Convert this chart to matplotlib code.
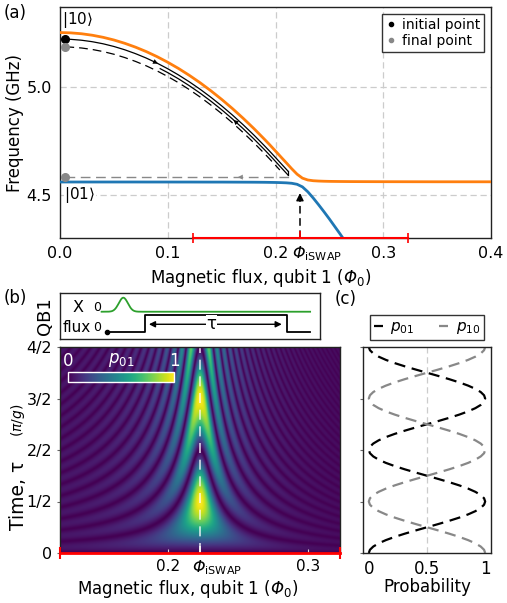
import numpy as np
import matplotlib
matplotlib.use("Agg")
import matplotlib.pyplot as plt
from matplotlib.lines import Line2D
from matplotlib.colors import PowerNorm
import matplotlib.transforms as mtransforms

plt.rcParams['font.family'] = ['DejaVu Sans']
plt.rcParams['mathtext.fontset'] = 'custom'
plt.rcParams['mathtext.rm'] = 'DejaVu Sans'
plt.rcParams['mathtext.it'] = 'DejaVu Sans:italic'
plt.rcParams['mathtext.bf'] = 'DejaVu Sans:bold'
plt.rcParams['mathtext.sf'] = 'DejaVu Sans:italic'

# ---------------- panel (a): dressed qubit frequencies ----------------
flux_a = [0.00, 0.01, 0.02, 0.03, 0.04, 0.05, 0.06, 0.07, 0.08, 0.09,
          0.10, 0.11, 0.12, 0.13, 0.14, 0.15, 0.16, 0.17, 0.18, 0.19,
          0.195, 0.20, 0.205, 0.21, 0.215, 0.22, 0.225, 0.23, 0.235, 0.24,
          0.245, 0.25, 0.26, 0.27, 0.28, 0.30, 0.35, 0.40]
freq_upper = [5.2516, 5.2502, 5.2461, 5.2392, 5.2296, 5.2172, 5.2020, 5.1841, 5.1636, 5.1402,
              5.1140, 5.0852, 5.0535, 5.0192, 4.9820, 4.9422, 4.8997, 4.8544, 4.8066, 4.7560,
              4.7298, 4.7028, 4.6755, 4.6485, 4.6211, 4.5957, 4.5772, 4.5687, 4.5653, 4.5638,
              4.5629, 4.5623, 4.5617, 4.5613, 4.5611, 4.5608, 4.5604, 4.5603]
freq_lower = [4.5594, 4.5594, 4.5594, 4.5594, 4.5594, 4.5594, 4.5594, 4.5594, 4.5593, 4.5593,
              4.5593, 4.5592, 4.5592, 4.5591, 4.5590, 4.5590, 4.5588, 4.5586, 4.5584, 4.5580,
              4.5576, 4.5572, 4.5565, 4.5555, 4.5535, 4.5488, 4.5368, 4.5139, 4.4852, 4.4540,
              4.4216, 4.3881, 4.3183, 4.2459, 4.1704, 4.0110, 3.5640, 3.0480]
phi_iswap = 0.2227
initial_point = (0.005, 5.221)
final_point_hi = (0.005, 5.187)
final_point_lo = (0.005, 4.582)
scan_range = [0.123, 0.323]
a_xticks = [0.0, 0.1, 0.2, 0.3, 0.4]
a_xticklabels = ['0.0', '0.1', '0.2', '0.3', '0.4']
a_yticks = [4.5, 5.0]
a_yticklabels = ['4.5', '5.0']

# ---------------- panel (b): chevron ----------------
b_xticks = [0.2, 0.3]
b_xticklabels = ['0.2', '0.3']
b_yticks = [0, 0.5, 1.0, 1.5, 2.0]
b_yticklabels = ['0', '1/2', '2/2', '3/2', '4/2']
detuning_scale = 260.0     # dimensionless detuning per (Phi0^2)

# ---------------- panel (c): populations at Phi_iSWAP ----------------
tau_c = [k / 32 for k in range(65)]
p01_c = [0.0, 0.0096, 0.0381, 0.0843, 0.1464, 0.2222, 0.3087, 0.4025, 0.5, 0.5975, 0.6913, 0.7778,
         0.8536, 0.9157, 0.9619, 0.9904, 1.0, 0.9904, 0.9619, 0.9157, 0.8536, 0.7778, 0.6913, 0.5975,
         0.5, 0.4025, 0.3087, 0.2222, 0.1464, 0.0843, 0.0381, 0.0096, 0.0,
         0.0096, 0.0381, 0.0843, 0.1464, 0.2222, 0.3087, 0.4025, 0.5, 0.5975, 0.6913, 0.7778,
         0.8536, 0.9157, 0.9619, 0.9904, 1.0, 0.9904, 0.9619, 0.9157, 0.8536, 0.7778, 0.6913, 0.5975,
         0.5, 0.4025, 0.3087, 0.2222, 0.1464, 0.0843, 0.0381, 0.0096, 0.0]
p10_c = [1.0 - v for v in p01_c]
c_xticks = [0, 0.5, 1]
c_xticklabels = ['0', '0.5', '1']

W, H = 507, 603
fig = plt.figure(figsize=(W / 100, H / 100), dpi=100)


def ax_px(l, t, r, b):
    return fig.add_axes([l / W, 1 - b / H, (r - l) / W, (b - t) / H])


ax_a = ax_px(60, 7, 491, 238)
ax_s = ax_px(60, 293, 320, 339)
ax_b = ax_px(60, 347, 340, 553)
ax_c = ax_px(363, 347, 491, 553)

spine_col = '#222222'
for ax in (ax_a, ax_s, ax_b, ax_c):
    for s in ax.spines.values():
        s.set_color(spine_col)
        s.set_linewidth(1.0)

PHI_IT = r'$\mathsf{Φ}_{\mathrm{iSWAP}}$'
XLABEL = r'Magnetic flux, qubit 1 ($\mathsf{Φ}_{\mathrm{0}}$)'


def phi_label(ax, dy_px):
    off = mtransforms.ScaledTranslation(-8 / 100, -dy_px / 100, fig.dpi_scale_trans)
    ax.text(phi_iswap, 0, PHI_IT, transform=ax.get_xaxis_transform() + off,
            ha='left', va='top', fontsize=11.5)


# ======================= panel (a) =======================
ax = ax_a
ax.set_xlim(0, 0.4)
ax.set_ylim(4.3, 5.37)
grid_kw = dict(color='#cccccc', lw=0.9, dashes=(5, 3), zorder=0)
for x in [0.1, 0.2, 0.3]:
    ax.axvline(x, **grid_kw)
for y in a_yticks:
    ax.axhline(y, **grid_kw)

ax.plot(flux_a, freq_upper, color='#ff7f0e', lw=2, zorder=3)
ax.plot(flux_a, freq_lower, color='#1f77b4', lw=2, zorder=3)

xu = np.array(flux_a)
yu = np.array(freq_upper)


def up(x):
    return np.interp(x, xu, yu)


x_turn = 0.2117
x_out = np.linspace(initial_point[0], x_turn, 120)
ax.plot(x_out, up(x_out) - 0.03, color='k', lw=0.9, zorder=4)
x_in = np.linspace(0.093, x_turn, 100)
ax.plot(x_in, up(x_in) - 0.048, color='k', lw=0.9, zorder=4)
ax.plot([x_turn, x_turn], [up(x_turn) - 0.03, up(x_turn) - 0.048], color='k', lw=0.9, zorder=4)
x_d = np.linspace(final_point_hi[0], 0.204, 120)
ax.plot(x_d, up(x_d) - 0.066, color='k', lw=0.9, dashes=(7, 4), zorder=4)
ax.plot([final_point_lo[0], 0.2135], [final_point_lo[1]] * 2, color='#888888', lw=1.0,
        dashes=(7, 4), zorder=4)

arr = dict(arrowstyle='-|>', lw=0.01, mutation_scale=9, shrinkA=0, shrinkB=0)
ax.annotate('', xy=(0.091, up(0.091) - 0.03), xytext=(0.085, up(0.085) - 0.03),
            arrowprops=dict(color='k', **arr), zorder=5)
ax.annotate('', xy=(0.161, up(0.161) - 0.048), xytext=(0.168, up(0.168) - 0.048),
            arrowprops=dict(color='k', **arr), zorder=5)
ax.annotate('', xy=(0.165, final_point_lo[1]), xytext=(0.173, final_point_lo[1]),
            arrowprops=dict(color='#888888', **arr), zorder=5)

ax.plot(*initial_point, 'o', color='k', ms=5.5, zorder=6, clip_on=False)
ax.plot(*final_point_hi, 'o', color='#888888', ms=5.5, zorder=6, clip_on=False)
ax.plot(*final_point_lo, 'o', color='#888888', ms=5.5, zorder=6, clip_on=False)

# scan range bar
ax.plot(scan_range, [4.3, 4.3], color='red', lw=1.5, clip_on=False, zorder=7)
ax.plot(scan_range, [4.3, 4.3], ls='', marker='|', ms=7, mew=1.2, color='red', clip_on=False, zorder=7)
ax.plot([phi_iswap], [4.3], ls='', marker=2, ms=5, mew=1.2, color='red', clip_on=False, zorder=7)

# dashed arrow at Phi_iSWAP
ax.plot([phi_iswap, phi_iswap], [4.3, 4.48], color='k', lw=1.1, dashes=(5, 3), zorder=5)
ax.annotate('', xy=(phi_iswap, 4.508), xytext=(phi_iswap, 4.47),
            arrowprops=dict(arrowstyle='-|>', color='k', lw=1, mutation_scale=11, shrinkA=0, shrinkB=0),
            zorder=5)

ax.text(0.002, 5.31, r'$|\mathrm{10}\rangle$', ha='left', va='center', fontsize=11, zorder=8)
ax.text(0.004, 4.5, r'$|\mathrm{01}\rangle$', ha='left', va='center', fontsize=11, zorder=8,
        bbox=dict(facecolor='white', edgecolor='none', pad=0.5))

ax.set_xticks(a_xticks)
ax.set_xticklabels(a_xticklabels)
ax.set_yticks(a_yticks)
ax.set_yticklabels(a_yticklabels)
ax.tick_params(length=0, labelsize=11.5, pad=6)
ax.set_ylabel('Frequency (GHz)', fontsize=12, labelpad=2)
ax.set_xlabel(XLABEL, fontsize=12)
ax.xaxis.set_label_coords(0.466, -0.125)
phi_label(ax, 6.5)

handles = [Line2D([], [], marker='o', ls='', color='k', ms=3),
           Line2D([], [], marker='o', ls='', color='#888888', ms=3)]
leg = ax.legend(handles, ['initial point', 'final point'], loc='upper right', fontsize=10,
                handlelength=0.6, handletextpad=0.5, borderpad=0.3, labelspacing=0.15,
                fancybox=False, framealpha=1, edgecolor='#333333', borderaxespad=0.5)
leg.get_frame().set_linewidth(1.0)

# ======================= schematic =======================
ax = ax_s
ax.set_xlim(0, 1)
ax.set_ylim(0, 1)
ax.set_xticks([])
ax.set_yticks([])
t = np.linspace(0.16, 0.962, 400)
ax.plot(t, 0.593 + 0.305 * np.exp(-0.5 * ((t - 0.2435) / 0.0175) ** 2), color='#2ca02c', lw=1.3)
ax.plot([0.182, 0.327, 0.327, 0.872, 0.872, 0.962], [0.146, 0.146, 0.522, 0.522, 0.146, 0.146],
        color='k', lw=1.3)
ax.plot([0.182], [0.146], 'o', color='k', ms=3)
ax.annotate('', xy=(0.853, 0.32), xytext=(0.342, 0.32),
            arrowprops=dict(arrowstyle='<|-|>', color='k', lw=1, mutation_scale=9, shrinkA=0, shrinkB=0))
ax.text(0.583, 0.32, 'τ', ha='center', va='center', fontsize=12,
        bbox=dict(facecolor='white', edgecolor='none', pad=0.5))
ax.text(0.07, 0.674, 'X', ha='center', va='center', fontsize=11.5)
ax.text(0.144, 0.674, '0', ha='center', va='center', fontsize=9)
ax.text(0.012, 0.24, 'flux', ha='left', va='center', fontsize=11)
ax.text(0.144, 0.24, '0', ha='center', va='center', fontsize=9)
fig.text(45 / W, 1 - 316 / H, 'QB1', rotation=90, ha='center', va='center', fontsize=13)

# ======================= panel (b) =======================
ax = ax_b
phi = np.linspace(scan_range[0], scan_range[1], 800)
tau = np.linspace(0, 2, 600)
PH, TT = np.meshgrid(phi, tau)
delta = detuning_scale * (phi_iswap ** 2 - PH ** 2)
omega = np.sqrt(1 + delta ** 2)
p01 = np.sin(np.pi * TT * omega) ** 2 / omega ** 2
im = ax.imshow(p01, origin='lower', aspect='auto', cmap='viridis',
               extent=[scan_range[0], scan_range[1], 0, 2], norm=PowerNorm(0.65, 0, 1),
               interpolation='bilinear')
ax.set_xlim(scan_range)
ax.set_ylim(0, 2)
ax.axvline(phi_iswap, color='white', lw=1.2, dashes=(6, 4), alpha=0.8)
ax.set_xticks([0.2, phi_iswap, 0.3])
ax.set_xticklabels(['0.2', '', '0.3'])
ax.set_yticks(b_yticks)
ax.set_yticklabels(b_yticklabels)
ax.tick_params(axis='x', direction='in', length=3, color='#dddddd', labelsize=11, pad=4)
ax.tick_params(axis='y', direction='out', length=2.5, color='#666666', labelsize=11.5, pad=3)
tk = ax.xaxis.get_major_ticks()[1]
tk.tick1line.set_color('red')
tk.tick1line.set_markersize(5)
tk.tick1line.set_markeredgewidth(1.3)
ax.spines['bottom'].set_color('red')
ax.spines['bottom'].set_linewidth(2)
ax.plot(scan_range, [0, 0], ls='', marker='|', ms=8, mew=1.5, color='red', clip_on=False, zorder=7)
phi_label(ax, 5.5)
ax.set_xlabel(XLABEL, fontsize=12)
ax.xaxis.set_label_coords(0.457, -0.12)
fig.text(18 / W, 1 - 495 / H, 'Time, τ', rotation=90, ha='center', va='center', fontsize=13.5)
fig.text(18 / W, 1 - 420 / H, r'($\pi/g$)', rotation=90, ha='center', va='center', fontsize=10)

cax = ax.inset_axes([0.029, 0.83, 0.378, 0.049])
cb = fig.colorbar(im, cax=cax, orientation='horizontal')
cb.set_ticks([])
cb.outline.set_edgecolor('white')
cb.outline.set_linewidth(1.0)
ax.text(0.029, 0.93, '0', transform=ax.transAxes, ha='center', va='center', color='white', fontsize=12)
ax.text(0.407, 0.93, '1', transform=ax.transAxes, ha='center', va='center', color='white', fontsize=12)
ax.text(0.22, 0.935, r'$p_{\mathrm{01}}$', transform=ax.transAxes, ha='center', va='center',
        color='white', fontsize=12)

# ======================= panel (c) =======================
ax = ax_c
ax.axvline(0.5, color='#cccccc', lw=0.9, dashes=(5, 3), zorder=0)
ax.plot(p01_c, tau_c, color='k', lw=1.6, dashes=(5, 3), label=r'$p_{\mathrm{01}}$')
ax.plot(p10_c, tau_c, color='#888888', lw=1.6, dashes=(5, 3), label=r'$p_{\mathrm{10}}$')
ax.set_xlim(-0.05, 1.05)
ax.set_ylim(0, 2)
ax.set_xticks(c_xticks)
ax.set_xticklabels(c_xticklabels)
ax.set_yticks(b_yticks)
ax.set_yticklabels([])
ax.tick_params(axis='x', length=0, labelsize=12, pad=5)
ax.tick_params(axis='y', direction='out', length=2, color='#666666')
ax.set_xlabel('Probability', fontsize=12, labelpad=0)
leg = ax.legend(loc='lower center', bbox_to_anchor=(0.5, 1.035), ncol=2, fontsize=11,
                handlelength=0.6, handletextpad=0.5, columnspacing=1.6, borderpad=0.25,
                fancybox=False, framealpha=1, edgecolor='#333333', borderaxespad=0)
leg.get_frame().set_linewidth(1.0)

# panel letters
fig.text(15 / W, 1 - 13 / H, '(a)', ha='center', va='center', fontsize=12)
fig.text(15 / W, 1 - 298 / H, '(b)', ha='center', va='center', fontsize=12)
fig.text(346 / W, 1 - 299 / H, '(c)', ha='center', va='center', fontsize=12)

fig.savefig('out.png', dpi=100)
